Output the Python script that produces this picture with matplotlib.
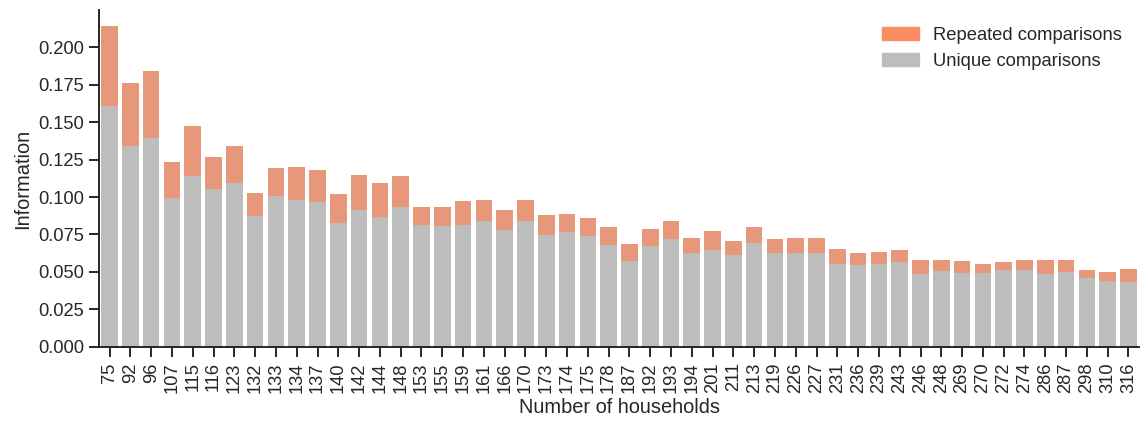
import numpy as np
import matplotlib
matplotlib.use("Agg")
import matplotlib.pyplot as plt
from matplotlib.patches import Patch

households = [75, 92, 96, 107, 115, 116, 123, 132, 133, 134, 137, 140, 142, 144, 148,
              153, 155, 159, 161, 166, 170, 173, 174, 175, 178, 187, 192, 193, 194, 201,
              211, 213, 219, 226, 227, 231, 236, 239, 243, 246, 248, 269, 270, 272, 274,
              286, 287, 298, 310, 316]

# total information (repeated + unique)
total_info = [0.214, 0.176, 0.184, 0.1233, 0.1473, 0.1267, 0.134, 0.1027, 0.1193, 0.120,
              0.118, 0.102, 0.1147, 0.1093, 0.114, 0.0933, 0.0933, 0.0973, 0.098, 0.0913,
              0.098, 0.088, 0.0887, 0.086, 0.080, 0.0687, 0.0787, 0.084, 0.0727, 0.0773,
              0.0707, 0.080, 0.072, 0.0727, 0.0727, 0.0653, 0.0627, 0.0633, 0.0647, 0.058,
              0.058, 0.0573, 0.0553, 0.0567, 0.058, 0.058, 0.058, 0.0513, 0.050, 0.052]

unique_info = [0.1607, 0.134, 0.1393, 0.0993, 0.114, 0.1053, 0.1093, 0.0873, 0.1007, 0.098,
               0.0967, 0.0827, 0.0913, 0.0867, 0.0933, 0.0813, 0.0807, 0.0813, 0.084, 0.078,
               0.084, 0.0747, 0.0767, 0.074, 0.068, 0.0573, 0.0673, 0.072, 0.0627, 0.0647,
               0.0613, 0.0693, 0.0627, 0.0627, 0.0627, 0.0553, 0.0547, 0.0553, 0.0567, 0.0487,
               0.0507, 0.0493, 0.0493, 0.0513, 0.0513, 0.0487, 0.050, 0.046, 0.044, 0.0433]

plt.rcParams['font.family'] = ['Liberation Sans', 'DejaVu Sans']

fig = plt.figure(figsize=(11.4, 4.21), dpi=100)
ax = fig.add_axes([0.087, 0.176, 0.912, 0.80])

x = np.arange(len(households))
ax.bar(x, total_info, width=0.8, color='#E8987A')
ax.bar(x, unique_info, width=0.8, color='#BDBDBD')

ax.set_xlim(-0.5, len(households) - 0.5)
ax.set_xticks(x)
ax.set_xticklabels([str(h) for h in households], rotation=90, fontsize=13.2)
yt = np.arange(0, 0.201, 0.025)
ax.set_yticks(yt)
ax.set_yticklabels([f'{t:.3f}' for t in yt], fontsize=13.2)
ax.set_xlabel('Number of households', fontsize=14.4, color='#262626')
ax.set_ylabel('Information', fontsize=14.4, color='#262626')
ax.tick_params(colors='#262626', length=7, width=1.4, pad=4)

for s in ['top', 'right']:
    ax.spines[s].set_visible(False)
for s in ['left', 'bottom']:
    ax.spines[s].set_linewidth(1.4)
    ax.spines[s].set_color('#262626')

handles = [Patch(color='#FC8D62', label='Repeated comparisons'),
           Patch(color='#BDBDBD', label='Unique comparisons')]
ax.legend(handles=handles, loc='upper right', frameon=False, fontsize=13.2,
          labelcolor='#262626', bbox_to_anchor=(1.0, 1.0))

plt.savefig('out.png', dpi=100)
